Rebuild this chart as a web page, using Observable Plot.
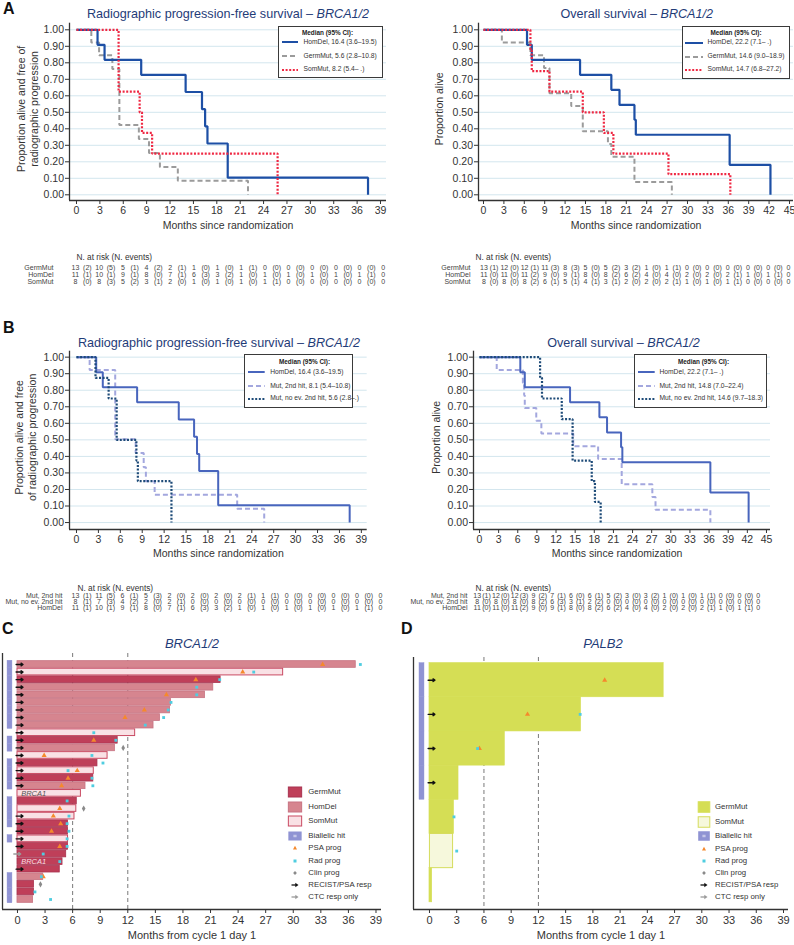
<!DOCTYPE html>
<html>
<head>
<meta charset="utf-8">
<script src="https://cdn.jsdelivr.net/npm/d3@7"></script>
<script src="https://cdn.jsdelivr.net/npm/@observablehq/plot@0.6"></script>
<style>
html,body{margin:0;padding:0;background:#fff;}
#fig{position:relative;width:794px;height:945px;overflow:hidden;background:#fff;font-family:"Liberation Sans",Arial,Helvetica,sans-serif;color:#333;}
.abs{position:absolute;}
.letter{position:absolute;font-size:16px;font-weight:bold;line-height:1;color:#111;}
.title{position:absolute;line-height:1;white-space:nowrap;color:#1f3c78;transform:translateX(-50%);}
.kmleg{position:absolute;box-sizing:border-box;border:1.5px solid #3a3a3a;background:#fff;}
.kmleg .hdr{position:absolute;font-size:6.4px;font-weight:bold;line-height:1;white-space:nowrap;transform:translateX(-50%);color:#222;}
.kmleg .lt{position:absolute;font-size:6.7px;line-height:1;white-space:nowrap;color:#333;}
.bl{position:absolute;font-size:7.8px;line-height:1;white-space:nowrap;color:#333;}
</style>
</head>
<body>
<div id="fig"></div>
<script>
// ================= DATA =================
// tick values
const ticks39 = [0,3,6,9,12,15,18,21,24,27,30,33,36,39];
const ticks45 = [0,3,6,9,12,15,18,21,24,27,30,33,36,39,42,45];
const propTicks = [0,0.1,0.2,0.3,0.4,0.5,0.6,0.7,0.8,0.9,1];

// Panel A – rPFS (time in months, survival after each step)
const pfsHomDelT = [0, 2.7, 3.6, 8.3, 14.0, 16.1, 16.5, 16.8, 19.4, 37.4];
const pfsHomDelS = [1, 0.909, 0.818, 0.727, 0.623, 0.519, 0.415, 0.311, 0.104, 0];
const aPfsGermT = [0, 1.9, 2.9, 4.6, 5.5, 8.0, 9.3, 10.7, 13.0, 22.0];
const aPfsGermS = [1, 0.923, 0.846, 0.762, 0.423, 0.338, 0.254, 0.169, 0.085, 0];
const aPfsSomT = [0, 5.4, 8.1, 8.4, 9.7, 25.8];
const aPfsSomS = [1, 0.625, 0.5, 0.375, 0.25, 0];

// Panel A – OS
const osHomDelT = [0, 6.4, 7.1, 14.2, 18.8, 20.0, 22.2, 22.4, 36.2, 42.2];
const osHomDelS = [1, 0.909, 0.818, 0.727, 0.636, 0.545, 0.455, 0.364, 0.182, 0];
const aOsGermT = [0, 2.7, 6.9, 8.9, 9.7, 12.9, 14.6, 18.3, 18.8, 22.2, 27.7];
const aOsGermS = [1, 0.923, 0.846, 0.769, 0.615, 0.538, 0.385, 0.308, 0.231, 0.077, 0];
const aOsSomT = [0, 6.9, 7.1, 9.7, 14.6, 17.7, 19.1, 27.2, 36.3];
const aOsSomS = [1, 0.875, 0.75, 0.625, 0.5, 0.375, 0.25, 0.125, 0];

// Panel B – rPFS
const bPfsMut2T = [0, 1.8, 5.3, 8.1, 9.2, 9.5, 10.7, 22.0, 25.7];
const bPfsMut2S = [1, 0.923, 0.503, 0.42, 0.335, 0.25, 0.168, 0.084, 0];
const bPfsNoEvT = [0, 2.6, 4.4, 5.5, 8.2, 8.4, 13.0];
const bPfsNoEvS = [1, 0.875, 0.75, 0.5, 0.375, 0.25, 0];

// Panel B – OS
const bOsMut2T = [0, 2.7, 6.8, 7.0, 7.1, 8.9, 9.7, 14.7, 18.6, 22.3, 27.1, 27.6, 36.2];
const bOsMut2S = [1, 0.923, 0.846, 0.769, 0.692, 0.615, 0.538, 0.462, 0.385, 0.231, 0.154, 0.077, 0];
const bOsNoEvT = [0, 9.5, 9.8, 12.9, 14.6, 17.6, 18.1, 19.0];
const bOsNoEvS = [1, 0.875, 0.75, 0.625, 0.375, 0.25, 0.125, 0];

// legend texts
const aPfsLegend = ["HomDel, 16.4 (3.6–19.5)", "GermMut, 5.6 (2.8–10.8)", "SomMut, 8.2 (5.4– .)"];
const aOsLegend = ["HomDel, 22.2 (7.1– .)", "GermMut, 14.6 (9.0–18.9)", "SomMut, 14.7 (6.8–27.2)"];
const bPfsLegend = ["HomDel, 16.4 (3.6–19.5)", "Mut, 2nd hit, 8.1 (5.4–10.8)", "Mut, no ev. 2nd hit, 5.6 (2.8–.)"];
const bOsLegend = ["HomDel, 22.2 (7.1– .)", "Mut, 2nd hit, 14.8 (7.0–22.4)", "Mut, no ev. 2nd hit, 14.6 (9.7–18.3)"];

// risk tables
const groupsA = ["GermMut", "HomDel", "SomMut"];
const groupsB = ["Mut, 2nd hit", "Mut, no ev. 2nd hit", "HomDel"];
const aPfsRiskN = [[13,10,5,4,2,1,1,1,0,0,0,0,0,0],[11,10,9,8,7,6,3,1,1,1,1,1,1,0],[8,8,5,3,2,1,1,1,1,0,0,0,0,0]];
const aPfsRiskE = [[2,5,1,2,1,0,0,1,0,0,0,0,0],[1,1,1,0,1,3,2,0,0,0,0,0,1],[0,3,2,1,0,0,0,0,1,0,0,0,0]];
const aOsRiskN = [[13,12,12,11,8,5,5,3,1,1,0,0,0,0,0,0],[11,11,11,9,9,8,8,6,4,4,2,2,2,1,1,0],[8,8,8,6,5,4,3,2,2,2,1,1,1,0,0,0]];
const aOsRiskE = [[1,0,1,3,3,0,2,2,0,1,0,0,0,0,0],[0,0,2,0,1,0,2,2,0,0,0,0,1,0,1],[0,0,2,1,1,1,1,0,0,1,0,0,1,0,0]];
const bPfsRiskN = [[13,11,6,5,2,2,2,2,1,0,0,0,0,0],[8,7,4,2,2,0,0,0,0,0,0,0,0,0],[11,10,9,8,7,6,3,1,1,1,1,1,1,0]];
const bPfsRiskE = [[1,5,1,3,0,0,0,1,1,0,0,0,0],[1,3,2,0,1,0,0,0,0,0,0,0,0],[1,1,1,0,1,3,2,0,0,0,0,0,1]];
const bOsRiskN = [[13,12,12,9,7,6,6,5,3,3,1,1,1,0,0,0],[8,8,8,8,6,3,2,0,0,0,0,0,0,0,0,0],[11,11,11,9,9,8,8,6,4,4,2,2,2,1,1,0]];
const bOsRiskE = [[1,0,3,2,1,0,1,2,0,2,0,0,1,0,0],[0,0,0,2,3,1,2,0,0,0,0,0,0,0,0],[0,0,2,0,1,0,2,2,0,0,0,0,1,0,1]];

// Panel C – BRCA1/2 swimmer
const cType = ["HomDel","SomMut","GermMut","HomDel","HomDel","HomDel","HomDel","HomDel","HomDel","SomMut",
  "GermMut","HomDel","SomMut","GermMut","SomMut","GermMut","HomDel","SomMut","GermMut","SomMut",
  "SomMut","GermMut","GermMut","SomMut","GermMut","GermMut","GermMut","GermMut","HomDel","GermMut",
  "GermMut","HomDel"];
const cMonths = [36.8,28.9,22.1,21.3,20.4,16.7,16.6,15.5,14.8,12.8,
  10.9,10.6,9.8,8.7,8.3,8.25,7.4,6.9,6.45,6.4,
  6.2,5.5,5.5,5.5,5.5,5.3,4.9,4.6,2.8,1.8,
  1.8,1.7];
const cBiallelic = [1,1,1,1,1,1,1,1,1,0, 1,1,0,1,1,1,1,0,1,1, 1,1,0,1,0,0,0,0,1,1, 1,1];
const cResp = ["R","R","R","R","R","R","R","R","R","R", "R","R","R","R","R","R","R","","","", "R","R","R","R","R","C","","R","","", "",""];
const cPsaRow   = [1,2,3,5,7,8,11,13,15,16,17,20,21,22,23,25,29];
const cPsaMonth = [33.2,24.5,19.4,16.2,13.8,11.7,8.3,2.9,6.5,5.5,4.8,4.6,3.9,4.7,3.7,4.6,2.8];
const cRadRow   = [1,2,3,4,5,6,7,8,9,10,11,13,14,15,16,17,19,21,22,23,24,25,26,27,29,31,32];
const cRadMonth = [37.3,25.7,22.0,19.5,19.5,16.7,16.4,15.9,13.9,8.3,10.7,8.1,9.3,5.5,8.1,8.2,5.4,5.6,5.4,5.6,5.4,5.4,2.8,4.6,2.6,1.9,3.6];
const cClinRow = [12,20,30];
const cClinMonth = [11.5,7.2,2.5];
const cLabelRow = [18, 27];
const cLabelText = ["BRCA1", "BRCA1"];

// Panel D – PALB2 swimmer
const dType = ["GermMut","GermMut","GermMut","GermMut","GermMut","SomMut","GermMut"];
const dMonths = [25.8,16.7,8.3,3.2,2.7,2.6,0.3];
const dBiallelic = [1,1,1,1,0,0,0];
const dResp = ["R","R","R","R","","",""];
const dPsaRow = [1,2,3];
const dPsaMonth = [19.3,10.8,5.5];
const dRadRow = [2,3,5,6];
const dRadMonth = [16.6,5.3,2.7,3.0];

// ================= STYLE =================
const FONT = '"Liberation Sans", Arial, Helvetica, sans-serif';
const SVGSTYLE = {background: "transparent", overflow: "visible", fontFamily: FONT, color: "#333"};
const COL = {
  aHom: "#1d4fa5", aGerm: "#9b9b9b", aSom: "#ef2843",
  bHom: "#4865bd", bMut2: "#a3a7de", bNoEv: "#1e4b78",
  cGerm: "#bf3f59", cGermS: "#a83350", cHom: "#d6858f", cHomS: "#c77382", cSom: "#f9e1e5", cSomS: "#c94a62",
  bi: "#8f93d3", psa: "#f5892c", rad: "#4fcde0", clin: "#8a8a8a",
  dGerm: "#d5de55", dSom: "#f6f8dc", dSomS: "#d5dc5c"
};
const fig = document.getElementById("fig");
function place(node, x, y) {
  const d = document.createElement("div");
  d.className = "abs"; d.style.left = x + "px"; d.style.top = y + "px";
  d.appendChild(node); fig.appendChild(d);
}
function html(cls, txt, x, y, extra) {
  const d = document.createElement("div");
  d.className = cls; d.innerHTML = txt;
  d.style.left = x + "px"; d.style.top = y + "px";
  if (extra) Object.assign(d.style, extra);
  fig.appendChild(d); return d;
}

// ================= KM PLOTS =================
function kmPlot(o) {
  const marks = [Plot.gridY(propTicks, {stroke: "#d3e6ee", strokeOpacity: 1, strokeWidth: 1})];
  o.curves.forEach(c => {
    const pts = c.T.map((t, i) => ({t, s: c.S[i]}));
    marks.push(Plot.line(pts, {x: "t", y: "s", curve: "step-after", stroke: c.color, strokeWidth: c.width, strokeDasharray: c.dash, strokeLinecap: "butt", strokeLinejoin: "miter"}));
  });
  marks.push(
    Plot.ruleX([o.x[0]], {stroke: "#333", strokeWidth: 1.3}),
    Plot.ruleY([o.y[0]], {stroke: "#333", strokeWidth: 1.3}),
    Plot.axisY(propTicks, {tickSize: 4, tickPadding: 1.5, tickFormat: d => d.toFixed(2), fontSize: 10.5, label: null}),
    Plot.axisX(o.xTicks, {tickSize: 4, tickPadding: 2, fontSize: 10.5, label: null}),
    Plot.text([o.xLabel], {text: d => d, frameAnchor: "bottom", dy: o.xLabelDy, dx: o.xLabelDx || 0, fontSize: 10.5, fill: "#333"}),
    Plot.text([o.yLabel], {text: d => d, frameAnchor: "left", textAnchor: "middle", lineAnchor: "middle", rotate: -90, dx: o.yLabelDx, dy: o.yLabelDy || 0, fontSize: 10.5, lineHeight: 1.22, fill: "#333"})
  );
  return Plot.plot({
    width: o.w, height: o.h, marginLeft: o.ml, marginRight: o.mr, marginTop: o.mt, marginBottom: o.mb,
    style: SVGSTYLE,
    x: {domain: o.x, axis: null},
    y: {domain: o.y, axis: null},
    marks
  });
}

const A_PFS = [
  {T: aPfsGermT, S: aPfsGermS, color: COL.aGerm, width: 2, dash: "5,3"},
  {T: pfsHomDelT, S: pfsHomDelS, color: COL.aHom, width: 2.2},
  {T: aPfsSomT, S: aPfsSomS, color: COL.aSom, width: 2.2, dash: "2,1.6"}
];
const A_OS = [
  {T: aOsGermT, S: aOsGermS, color: COL.aGerm, width: 2, dash: "5,3"},
  {T: osHomDelT, S: osHomDelS, color: COL.aHom, width: 2.2},
  {T: aOsSomT, S: aOsSomS, color: COL.aSom, width: 2.2, dash: "2,1.6"}
];
const B_PFS = [
  {T: bPfsMut2T, S: bPfsMut2S, color: COL.bMut2, width: 2, dash: "5,3"},
  {T: pfsHomDelT, S: pfsHomDelS, color: COL.bHom, width: 2},
  {T: bPfsNoEvT, S: bPfsNoEvS, color: COL.bNoEv, width: 2.2, dash: "2,1.6"}
];
const B_OS = [
  {T: bOsMut2T, S: bOsMut2S, color: COL.bMut2, width: 2, dash: "5,3"},
  {T: osHomDelT, S: osHomDelS, color: COL.bHom, width: 2},
  {T: bOsNoEvT, S: bOsNoEvS, color: COL.bNoEv, width: 2.2, dash: "2,1.6"}
];

place(kmPlot({w: 390, h: 240, ml: 69, mr: 4, mt: 22.7, mb: 40, x: [-0.898, 39.77], y: [-0.0345, 1.04],
  xTicks: ticks39, curves: A_PFS, xLabel: "Months since randomization", xLabelDy: 28,
  yLabel: "Proportion alive and free of\nradiographic progression", yLabelDx: -42.5, yLabelDy: -3}), 0, 0);
place(kmPlot({w: 404, h: 240, ml: 88, mr: 1, mt: 22.7, mb: 40, x: [-0.735, 45.59], y: [-0.0345, 1.04],
  xTicks: ticks45, curves: A_OS, xLabel: "Months since randomization", xLabelDy: 28,
  yLabel: "Proportion alive", yLabelDx: -40, yLabelDy: -3}), 390, 0);
place(kmPlot({w: 390, h: 240, ml: 69, mr: 23.3, mt: 20.7, mb: 41, x: [-0.958, 39.8], y: [-0.042, 1.036],
  xTicks: ticks39, curves: B_PFS, xLabel: "Months since randomization", xLabelDy: 27,
  yLabel: "Proportion alive and free\nof radiographic progression", yLabelDx: -44.5, yLabelDy: -3}), 0, 330);
place(kmPlot({w: 404, h: 240, ml: 83, mr: 24, mt: 20.7, mb: 41, x: [-0.94, 45.63], y: [-0.042, 1.036],
  xTicks: ticks45, curves: B_OS, xLabel: "Months since randomization", xLabelDy: 27, xLabelDx: -5,
  yLabel: "Proportion alive", yLabelDx: -38, yLabelDy: -3}), 390, 330);

// ================= RISK TABLES =================
function riskPlot(o) {
  const rows = [];
  o.groups.forEach((g, gi) => {
    o.n[gi].forEach((v, i) => rows.push({g, x: o.times[i], label: String(v)}));
    o.e[gi].forEach((v, i) => rows.push({g, x: (o.times[i] + o.times[i + 1]) / 2, label: "(" + v + ")"}));
  });
  return Plot.plot({
    width: o.w, height: o.h, marginLeft: o.ml, marginRight: 0, marginTop: 0, marginBottom: 0,
    style: SVGSTYLE,
    x: {domain: [o.times[0], o.times[o.times.length - 1]], range: o.xRange, axis: null},
    y: {type: "point", domain: o.groups, range: o.yRange, padding: 0, axis: null},
    marks: [
      Plot.axisY({tickSize: 0, tickPadding: 3, fontSize: 7, label: null, fill: "#444"}),
      Plot.text(rows, {x: "x", y: "g", text: "label", fontSize: 7, fill: "#444"}),
      Plot.text(["N. at risk (N. events)"], {text: d => d, frameAnchor: "top-left", dx: o.hdx, dy: o.hdy, textAnchor: "start", fontSize: 8.3, fill: "#333"})
    ]
  });
}
place(riskPlot({w: 390, h: 45, ml: 56, groups: groupsA, n: aPfsRiskN, e: aPfsRiskE, times: ticks39,
  xRange: [75, 382.7], yRange: [22, 36], hdx: 20, hdy: 9}), 0, 245);
place(riskPlot({w: 404, h: 45, ml: 83, groups: groupsA, n: aOsRiskN, e: aOsRiskE, times: ticks45,
  xRange: [93.5, 398], yRange: [22, 36], hdx: 2, hdy: 9}), 390, 245);
place(riskPlot({w: 390, h: 40, ml: 65, groups: groupsB, n: bPfsRiskN, e: bPfsRiskE, times: ticks39,
  xRange: [75, 380], yRange: [18, 31], hdx: 12, hdy: 9}), 0, 576);
place(riskPlot({w: 404, h: 40, ml: 80, groups: groupsB, n: bOsRiskN, e: bOsRiskE, times: ticks45,
  xRange: [86.7, 367.7], yRange: [18, 31], hdx: 5, hdy: 9}), 390, 576);

// ================= KM LEGENDS =================
function kmLegend(o) {
  const b = 1.5;
  const box = document.createElement("div");
  box.className = "kmleg";
  Object.assign(box.style, {left: o.x0 + "px", top: o.y0 + "px", width: (o.x1 - o.x0) + "px", height: (o.y1 - o.y0) + "px"});
  let h = `<div class="hdr" style="left:${o.hx - o.x0 - b}px;top:${o.hy - o.y0 - b - 3.2}px">Median (95% CI):</div>`;
  o.items.forEach((it, i) => {
    const ry = o.rows[i] - o.y0 - b;
    const lw = o.lx1 - o.lx0;
    h += `<svg style="position:absolute;left:${o.lx0 - o.x0 - b}px;top:${ry - 3}px;overflow:visible" width="${lw}" height="6"><line x1="0" y1="3" x2="${lw}" y2="3" stroke="${it.color}" stroke-width="2" ${it.dash ? `stroke-dasharray="${it.dash}"` : ""}/></svg>`;
    h += `<div class="lt" style="left:${o.tx - o.x0 - b}px;top:${ry - 3.4}px">${it.label}</div>`;
  });
  box.innerHTML = h;
  fig.appendChild(box);
}
const legA = (labels) => [
  {color: COL.aHom, label: labels[0]},
  {color: COL.aGerm, dash: "5,3", label: labels[1]},
  {color: COL.aSom, dash: "2,1.6", label: labels[2]}
];
const legB = (labels) => [
  {color: COL.bHom, label: labels[0]},
  {color: COL.bMut2, dash: "5,3", label: labels[1]},
  {color: COL.bNoEv, dash: "2,1.6", label: labels[2]}
];
kmLegend({x0: 278, y0: 26, x1: 383, y1: 78, hx: 328, hy: 33.3, rows: [42.7, 56.7, 70], lx0: 282, lx1: 298, tx: 304, items: legA(aPfsLegend)});
kmLegend({x0: 682, y0: 26, x1: 790, y1: 79, hx: 736.5, hy: 34, rows: [43.3, 57.3, 70], lx0: 685, lx1: 703, tx: 708, items: legA(aOsLegend)});
kmLegend({x0: 244, y0: 354, x1: 353, y1: 408, hx: 305, hy: 362.3, rows: [372.7, 386.7, 399.3], lx0: 248.3, lx1: 265, tx: 270.7, items: legB(bPfsLegend)});
kmLegend({x0: 634, y0: 354, x1: 767, y1: 408, hx: 704, hy: 362.3, rows: [372.7, 386.7, 399.3], lx0: 638.3, lx1: 655, tx: 660, items: legB(bOsLegend)});

// ================= SWIMMER PLOTS =================
function swimPlot(o) {
  const rows = o.type.map((t, i) => ({row: i + 1, type: t, months: o.months[i], bi: o.bi[i], resp: o.resp[i]}));
  const psa = o.psaRow.map((r, i) => ({row: r, m: o.psaMonth[i]}));
  const rad = o.radRow.map((r, i) => ({row: r, m: o.radMonth[i]}));
  const clin = (o.clinRow || []).map((r, i) => ({row: r, m: o.clinMonth[i]}));
  const labels = (o.labelRow || []).map((r, i) => ({row: r, text: o.labelText[i], type: o.type[r - 1]}));
  const hh = o.half;
  const marks = [
    Plot.ruleX([6, 12], {stroke: "#7a7a7a", strokeWidth: 1, strokeDasharray: "4,3"})
  ];
  o.styles.forEach(s => {
    marks.push(Plot.rect(rows.filter(d => d.type === s.type), {
      x1: d => s.x0, x2: "months", y1: d => d.row - hh, y2: d => d.row + hh,
      fill: s.fill, stroke: s.stroke, strokeWidth: s.sw
    }));
  });
  marks.push(
    Plot.rect(rows.filter(d => d.bi), {x1: d => o.biX[0], x2: d => o.biX[1], y1: d => d.row - 0.5, y2: d => d.row + 0.5, fill: COL.bi, stroke: COL.bi, strokeWidth: 0.4}),
    Plot.text(labels.filter(d => d.type === "SomMut"), {x: d => 0.4, y: "row", text: "text", textAnchor: "start", fontStyle: "italic", fontSize: 7.5, fill: "#555"}),
    Plot.text(labels.filter(d => d.type !== "SomMut"), {x: d => 0.4, y: "row", text: "text", textAnchor: "start", fontStyle: "italic", fontSize: 7.5, fill: "#f6dde2"}),
    Plot.dot(clin, {x: "m", y: "row", symbol: "diamond", r: 1.9, fill: COL.clin}),
    Plot.dot(psa, {x: "m", y: "row", symbol: "triangle", r: 1.9, fill: COL.psa}),
    Plot.dot(rad, {x: "m", y: "row", symbol: "square", r: 1.6, fill: COL.rad}),
    Plot.arrow(rows.filter(d => d.resp === "R"), {x1: d => -0.15, x2: d => 0.6, y1: "row", y2: "row", stroke: "#111", strokeWidth: 1.4, headLength: 4, headAngle: 70}),
    Plot.arrow(rows.filter(d => d.resp === "C"), {x1: d => -0.4, x2: d => 0.35, y1: "row", y2: "row", stroke: "#9a9a9a", strokeWidth: 1.4, headLength: 4, headAngle: 70}),
    Plot.ruleX([o.x[0]], {stroke: "#333", strokeWidth: 1.3}),
    Plot.ruleY([o.y[0]], {stroke: "#333", strokeWidth: 1.3}),
    Plot.axisX(ticks39, {tickSize: 4, tickPadding: 3, fontSize: 11, label: null}),
    Plot.text(["Months from cycle 1 day 1"], {text: d => d, frameAnchor: "bottom", dy: 29, fontSize: 11, fill: "#333"})
  );
  return Plot.plot({
    width: o.w, height: o.h, marginLeft: o.ml, marginRight: o.mr, marginTop: o.mt, marginBottom: o.mb,
    style: SVGSTYLE,
    x: {domain: o.x, axis: null},
    y: {domain: o.y, axis: null},
    marks
  });
}
place(swimPlot({
  w: 400, h: 320, ml: 2, mr: 19, mt: 28, mb: 36, x: [-1.63, 39.6], y: [33.32, -0.45], half: 0.44, biX: [-1.08, -0.55],
  type: cType, months: cMonths, bi: cBiallelic, resp: cResp,
  psaRow: cPsaRow, psaMonth: cPsaMonth, radRow: cRadRow, radMonth: cRadMonth, clinRow: cClinRow, clinMonth: cClinMonth,
  labelRow: cLabelRow, labelText: cLabelText,
  styles: [
    {type: "GermMut", fill: COL.cGerm, stroke: COL.cGermS, sw: 0.8, x0: 0},
    {type: "HomDel", fill: COL.cHom, stroke: COL.cHomS, sw: 0.8, x0: 0},
    {type: "SomMut", fill: COL.cSom, stroke: COL.cSomS, sw: 1, x0: 0}
  ]
}), 0, 625);
place(swimPlot({
  w: 394, h: 320, ml: 13, mr: 6, mt: 32, mb: 36, x: [-1.76, 39.55], y: [7.71, 0.336], half: 0.5, biX: [-1.1, -0.55],
  type: dType, months: dMonths, bi: dBiallelic, resp: dResp,
  psaRow: dPsaRow, psaMonth: dPsaMonth, radRow: dRadRow, radMonth: dRadMonth,
  styles: [
    {type: "GermMut", fill: COL.dGerm, stroke: COL.dGerm, sw: 0.6, x0: 0},
    {type: "SomMut", fill: COL.dSom, stroke: COL.dSomS, sw: 1, x0: 0.05}
  ]
}), 400, 625);

// ================= SWIMMER LEGENDS =================
function icon(it, w, h) {
  const cx = 9, cy = 7;
  switch (it.kind) {
    case "rect": return `<rect x="${cx - w / 2}" y="${cy - h / 2}" width="${w}" height="${h}" fill="${it.fill}" stroke="${it.stroke}" stroke-width="1"/>`;
    case "bi": return `<rect x="${cx - w / 2}" y="${cy - h / 2 + 0.5}" width="${w}" height="${h - 1}" fill="${COL.bi}"/><line x1="${cx - 1.6}" x2="${cx + 1.6}" y1="${cy - 0.7}" y2="${cy - 0.7}" stroke="#fff" stroke-width="0.6"/><line x1="${cx - 1.6}" x2="${cx + 1.6}" y1="${cy + 0.7}" y2="${cy + 0.7}" stroke="#fff" stroke-width="0.6"/>`;
    case "tri": return `<path d="M${cx},${cy - 2.2}L${cx + 2},${cy + 1.4}L${cx - 2},${cy + 1.4}Z" fill="${COL.psa}"/>`;
    case "sq": return `<rect x="${cx - 1.5}" y="${cy - 1.5}" width="3" height="3" fill="${COL.rad}"/>`;
    case "dia": return `<path d="M${cx},${cy - 1.9}L${cx + 1.9},${cy}L${cx},${cy + 1.9}L${cx - 1.9},${cy}Z" fill="${COL.clin}"/>`;
    case "arrow": return `<line x1="${cx - 3.5}" y1="${cy}" x2="${cx + 1}" y2="${cy}" stroke="${it.color}" stroke-width="1.3"/><path d="M${cx + 3.5},${cy}L${cx + 0.3},${cy - 2.3}L${cx + 0.3},${cy + 2.3}Z" fill="${it.color}"/>`;
  }
  return "";
}
function swimLegend(items, iconCx, textX, w, h) {
  items.forEach(it => {
    const s = document.createElement("div");
    s.className = "abs";
    s.style.left = (iconCx - 9) + "px"; s.style.top = (it.y - 7) + "px";
    s.innerHTML = `<svg width="18" height="14" style="overflow:visible;display:block">${icon(it, w, h)}</svg>`;
    fig.appendChild(s);
    html("bl", it.label, textX, it.y - 4);
  });
}
swimLegend([
  {kind: "rect", fill: COL.cGerm, stroke: COL.cGermS, label: "GermMut", y: 791.7},
  {kind: "rect", fill: COL.cHom, stroke: COL.cHomS, label: "HomDel", y: 806.7},
  {kind: "rect", fill: COL.cSom, stroke: COL.cSomS, label: "SomMut", y: 821},
  {kind: "bi", label: "Biallelic hit", y: 835.5},
  {kind: "tri", label: "PSA prog", y: 848.3},
  {kind: "sq", label: "Rad prog", y: 861},
  {kind: "dia", label: "Clin prog", y: 873.3},
  {kind: "arrow", color: "#111", label: "RECIST/PSA resp", y: 885.3},
  {kind: "arrow", color: "#9a9a9a", label: "CTC resp only", y: 897.3}
], 295, 308.3, 13.3, 10);
swimLegend([
  {kind: "rect", fill: COL.dGerm, stroke: COL.dGerm, label: "GermMut", y: 807.2},
  {kind: "rect", fill: COL.dSom, stroke: COL.dSomS, label: "SomMut", y: 821.7},
  {kind: "bi", label: "Biallelic hit", y: 835.5},
  {kind: "tri", label: "PSA prog", y: 849},
  {kind: "sq", label: "Rad prog", y: 861},
  {kind: "dia", label: "Clin prog", y: 873},
  {kind: "arrow", color: "#111", label: "RECIST/PSA resp", y: 885},
  {kind: "arrow", color: "#9a9a9a", label: "CTC resp only", y: 896.7}
], 703.5, 715, 11.6, 10.5);

// ================= TITLES & LETTERS =================
html("title", "Radiographic progression-free survival – <i>BRCA1/2</i>", 228, 14 - 6.3, {fontSize: "12.6px"});
html("title", "Overall survival – <i>BRCA1/2</i>", 636.7, 14 - 6.3, {fontSize: "12.6px"});
html("title", "Radiographic progression-free survival – <i>BRCA1/2</i>", 219, 343 - 6.3, {fontSize: "12.6px"});
html("title", "Overall survival – <i>BRCA1/2</i>", 623.5, 343 - 6.3, {fontSize: "12.6px"});
html("title", "<i>BRCA1/2</i>", 192, 643 - 6.5, {fontSize: "13px"});
html("title", "<i>PALB2</i>", 603, 643 - 6.5, {fontSize: "13px"});
html("letter", "A", 3, 1);
html("letter", "B", 3, 320);
html("letter", "C", 2, 621);
html("letter", "D", 401, 621);
</script>
</body>
</html>
